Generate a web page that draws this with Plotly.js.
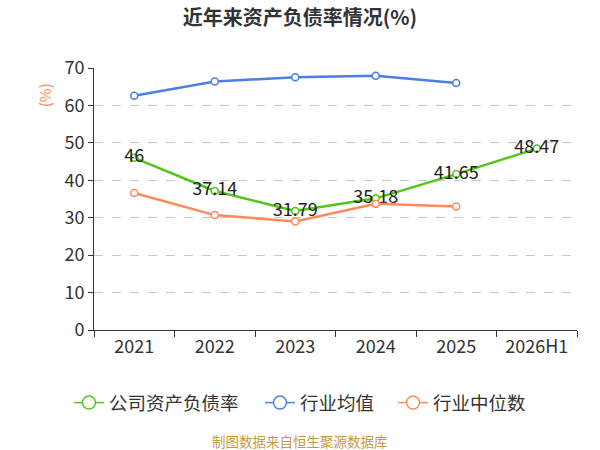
<!DOCTYPE html>
<html>
<head>
<meta charset="utf-8">
<script src="https://cdn.plot.ly/plotly-3.0.1.min.js"></script>
<style>
	html, body { margin: 0; padding: 0; background: #fff; }
	#chart { width: 600px; height: 450px; }
</style>
</head>
<body>
<div id="chart"></div>
<script>
"use strict";
// chart data
var years=['2021', '2022', '2023', '2024', '2025', '2026H1'];
var companyRatio=[46, 37.14, 31.79, 35.18, 41.65, 48.47];
var industryAvg=[62.6, 66.4, 67.5, 67.9, 66.0];
var industryMedian=[36.6, 30.7, 29.0, 33.7, 33.0];

var seriesNames=['公司资产负债率', '行业均值', '行业中位数'];
var seriesColors=['#52c41a', '#4b7fe1', '#fd8a58'];

var FONT='"Noto Sans CJK SC", "Microsoft YaHei", sans-serif';

function lineTrace(name, y, color, withText){
	var t={
		name: name,
		x: years.slice(0, y.length),
		y: y,
		type: 'scatter',
		mode: withText ? 'lines+markers+text' : 'lines+markers',
		line: {color: color, width: 2.5},
		marker: {symbol: 'circle', size: 7, color: '#fff', line: {color: color, width: 1.5}},
		showlegend: false,
		hoverinfo: 'x+y'
	};
	if (withText){
		t.text=y.map(function(v){ return String(v); });
		t.textposition='middle center';
		t.textfont={family: FONT, size: 18, color: '#222'};
	}
	return t;
}

//legend-only entries (thin line, big open circle), one legend box each
function legendTrace(i){
	return {
		name: seriesNames[i],
		x: [null], y: [null],
		type: 'scatter', mode: 'lines+markers',
		line: {color: seriesColors[i], width: 1.5},
		marker: {symbol: 'circle', size: 13, color: '#fff', line: {color: seriesColors[i], width: 1.5}},
		legend: i===0 ? 'legend' : 'legend'+(i+1),
		showlegend: true
	};
}

var data=[
	lineTrace(seriesNames[0], companyRatio, seriesColors[0], true),
	lineTrace(seriesNames[1], industryAvg, seriesColors[1], false),
	lineTrace(seriesNames[2], industryMedian, seriesColors[2], false),
	legendTrace(0), legendTrace(1), legendTrace(2)
];

function legendBox(px){ //px: left edge of the legend box, in page pixels
	return {
		orientation: 'h',
		x: (px-94)/483, xanchor: 'left',
		y: -0.279, yanchor: 'middle',
		font: {size: 18.5, color: '#333'},
		bgcolor: 'rgba(0,0,0,0)'
	};
}

var layout={
	width: 600,
	height: 450,
	margin: {l: 94, r: 23, t: 68, b: 120},
	paper_bgcolor: '#fff',
	plot_bgcolor: '#fff',
	font: {family: FONT, size: 18, color: '#333'},
	title: {
		text: '<b>近年来资产负债率情况(%)</b>',
		font: {family: FONT, size: 20, color: '#333'},
		x: 0.5, xanchor: 'center',
		y: 0.96, yanchor: 'middle'
	},
	xaxis: {
		type: 'category',
		showline: true, linecolor: '#333', linewidth: 1,
		ticks: 'outside', tickson: 'boundaries', ticklen: 6, tickcolor: '#333',
		showgrid: false, zeroline: false,
		tickfont: {size: 18, color: '#333'},
		range: [-0.5, 5.5]
	},
	yaxis: {
		range: [0, 70], dtick: 10,
		showline: true, linecolor: '#333', linewidth: 1,
		ticks: 'outside', ticklen: 5, tickcolor: '#333',
		showgrid: true, gridcolor: '#c8c8c8', griddash: 'dash', gridwidth: 1,
		zeroline: false,
		tickfont: {size: 18, color: '#333'}
	},
	showlegend: true,
	legend: legendBox(69),
	legend2: legendBox(260),
	legend3: legendBox(393),
	annotations: [
		{
			text: '(%)', xref: 'paper', yref: 'paper',
			x: -0.101, y: 0.897, showarrow: false, textangle: -90,
			xanchor: 'center', yanchor: 'middle',
			font: {size: 15, color: '#fd8a58'}
		},
		{
			text: '制图数据来自恒生聚源数据库', xref: 'paper', yref: 'paper',
			x: 0.426, y: -0.424, showarrow: false,
			xanchor: 'center', yanchor: 'middle',
			font: {size: 13.5, color: '#c99a3a'}
		}
	]
};

Plotly.newPlot('chart', data, layout, {displayModeBar: false, staticPlot: true});
</script>
</body>
</html>
